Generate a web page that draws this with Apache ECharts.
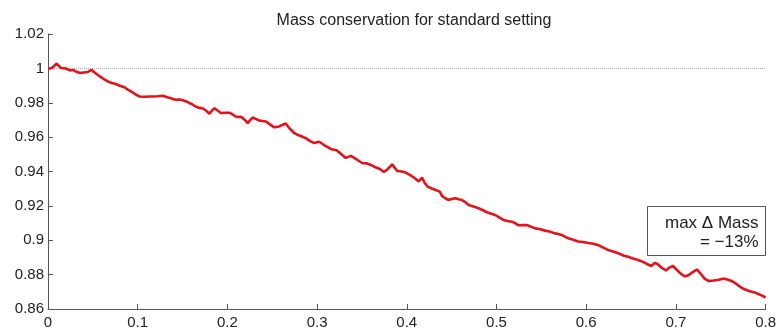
<!DOCTYPE html>
<html>
<head>
<meta charset="utf-8">
<script src="https://cdn.jsdelivr.net/npm/echarts@6/dist/echarts.min.js"></script>
<style>
html,body{margin:0;padding:0;background:#fff;}
#chart{width:779px;height:331px;}
</style>
</head>
<body>
<div id="chart"></div>
<script>
var titleText = 'Mass conservation for standard setting';
var xTicks = [0, 0.1, 0.2, 0.3, 0.4, 0.5, 0.6, 0.7, 0.8];
var yTicks = [0.86, 0.88, 0.9, 0.92, 0.94, 0.96, 0.98, 1, 1.02];
var referenceMass = 1;
var annotationLines = ['max \u0394 Mass', '= \u221213%'];

var time = [0,0.0044,0.0097,0.0144,0.02,0.0244,0.0278,0.0311,0.0356,0.04,0.0444,0.0486,0.0533,0.0578,0.0622,0.0667,0.0711,0.0756,0.08,0.0844,0.0889,0.0933,0.0978,0.1022,0.1078,0.1133,0.1178,0.1222,0.1278,0.1322,0.1367,0.1422,0.1467,0.1511,0.1556,0.16,0.1644,0.1689,0.1728,0.1767,0.18,0.1833,0.1856,0.1889,0.193,0.1978,0.2022,0.2056,0.21,0.2152,0.2189,0.2226,0.2256,0.2281,0.2322,0.2356,0.2389,0.243,0.2478,0.2522,0.2578,0.2611,0.265,0.2689,0.2744,0.2789,0.2837,0.2878,0.2922,0.2967,0.3022,0.3078,0.3152,0.3222,0.3267,0.3319,0.3374,0.3422,0.3467,0.3506,0.3556,0.36,0.3644,0.37,0.3744,0.3789,0.3837,0.3867,0.3894,0.3944,0.3986,0.4033,0.4078,0.4133,0.417,0.42,0.4233,0.4278,0.4322,0.4367,0.4394,0.4433,0.4467,0.45,0.4541,0.4578,0.4614,0.4656,0.4689,0.4744,0.48,0.4844,0.4892,0.4933,0.4986,0.5033,0.5078,0.5122,0.517,0.5211,0.5244,0.5289,0.5337,0.5378,0.543,0.5478,0.5541,0.5589,0.5652,0.5689,0.5726,0.5767,0.58,0.5856,0.5911,0.5967,0.6022,0.6078,0.6133,0.6189,0.6244,0.63,0.6356,0.6422,0.6467,0.6522,0.6578,0.6633,0.6689,0.6726,0.6767,0.68,0.6844,0.6889,0.6922,0.6967,0.7011,0.7056,0.71,0.7144,0.7189,0.7233,0.7278,0.7322,0.7367,0.7422,0.7467,0.7511,0.7544,0.7589,0.7633,0.7689,0.7744,0.78,0.7844,0.7889,0.7933,0.7967,0.8];

var mass = [0.9996,1.0002,1.0028,1.0002,0.9999,0.9988,0.9991,0.9982,0.9973,0.9976,0.9979,0.9991,0.997,0.9953,0.9938,0.9924,0.9915,0.9909,0.9899,0.9892,0.9877,0.9863,0.9848,0.9836,0.9835,0.9836,0.9836,0.9838,0.9841,0.9833,0.9826,0.9817,0.9819,0.9813,0.9804,0.9793,0.9778,0.977,0.9767,0.9752,0.9736,0.9758,0.9768,0.9755,0.974,0.9742,0.9742,0.9732,0.9717,0.9719,0.9703,0.9682,0.97,0.9714,0.9705,0.9696,0.9694,0.9691,0.9673,0.9657,0.9662,0.9671,0.9679,0.9653,0.9624,0.9612,0.9602,0.9593,0.9577,0.9566,0.9573,0.9554,0.9531,0.9522,0.9502,0.9479,0.9491,0.9476,0.9461,0.9448,0.9447,0.9438,0.9426,0.9415,0.9397,0.9415,0.9442,0.942,0.9403,0.94,0.9394,0.938,0.9365,0.9342,0.9364,0.9333,0.9312,0.9301,0.9292,0.9283,0.9257,0.9243,0.9234,0.924,0.9244,0.9238,0.9234,0.922,0.9205,0.9196,0.9186,0.9176,0.9163,0.9156,0.9147,0.9132,0.9118,0.9112,0.9108,0.9098,0.9087,0.9088,0.9089,0.908,0.9069,0.9065,0.9056,0.9051,0.904,0.9036,0.9031,0.902,0.9011,0.9003,0.8993,0.899,0.8984,0.898,0.8972,0.8958,0.8943,0.8935,0.8924,0.891,0.8904,0.8894,0.8885,0.8874,0.8859,0.885,0.8869,0.8859,0.8839,0.8824,0.8839,0.885,0.8827,0.8804,0.8789,0.8798,0.8815,0.883,0.8804,0.8775,0.8763,0.8766,0.8769,0.8775,0.8776,0.8769,0.876,0.874,0.8719,0.8708,0.87,0.8694,0.8684,0.8676,0.8667];

var seriesData = time.map(function (t, i) { return [t, mass[i]]; });

var chart = echarts.init(document.getElementById('chart'), null, {renderer: 'canvas'});
var font = '"Liberation Sans", Arial, Helvetica, sans-serif';
var axisColor = '#555';

chart.setOption({
  animation: false,
  backgroundColor: '#fff',
  title: {
    text: titleText,
    left: 409,
    textAlign: 'center',
    top: 8,
    textStyle: {fontFamily: font, fontSize: 16, fontWeight: 'normal', color: '#222'}
  },
  grid: {left: 48, right: 11, top: 34, bottom: 22, containLabel: false},
  xAxis: {
    type: 'value',
    min: xTicks[0],
    max: xTicks[xTicks.length - 1],
    interval: 0.1,
    axisLine: {show: true, lineStyle: {color: axisColor, width: 1}},
    axisTick: {show: true, inside: true, length: 5, lineStyle: {color: axisColor}},
    splitLine: {show: false},
    axisLabel: {
      margin: 6,
      fontFamily: font, fontSize: 15, color: '#222',
      formatter: function (v) { return String(parseFloat(v.toFixed(2))); }
    }
  },
  yAxis: {
    type: 'value',
    min: yTicks[0],
    max: yTicks[yTicks.length - 1],
    interval: 0.02,
    axisLine: {show: true, lineStyle: {color: axisColor, width: 1}},
    axisTick: {show: true, inside: true, length: 5, lineStyle: {color: axisColor}},
    splitLine: {show: false},
    axisLabel: {
      margin: 4,
      fontFamily: font, fontSize: 15, color: '#222',
      formatter: function (v) { return String(parseFloat(v.toFixed(2))); }
    }
  },
  series: [{
    type: 'line',
    data: seriesData,
    showSymbol: false,
    symbol: 'none',
    lineStyle: {color: '#e3121b', width: 2.6},
    z: 3,
    markLine: {
      silent: true,
      symbol: ['none', 'none'],
      label: {show: false},
      lineStyle: {type: 'dotted', color: '#aaa', width: 1},
      data: [{yAxis: referenceMass}],
      z: 1
    }
  }],
  graphic: [{
    type: 'group',
    left: 647,
    top: 206,
    children: [
      {type: 'rect', shape: {x: 0, y: 0, width: 118, height: 49},
       style: {fill: '#fff', stroke: '#555', lineWidth: 1}},
      {type: 'text', x: 111, y: 17,
       style: {text: annotationLines[0], font: '17px "Liberation Sans", Arial, sans-serif', fill: '#222', textAlign: 'right', textVerticalAlign: 'middle'}},
      {type: 'text', x: 111, y: 36,
       style: {text: annotationLines[1], font: '17px "Liberation Sans", Arial, sans-serif', fill: '#222', textAlign: 'right', textVerticalAlign: 'middle'}}
    ]
  }]
});
</script>
</body>
</html>
